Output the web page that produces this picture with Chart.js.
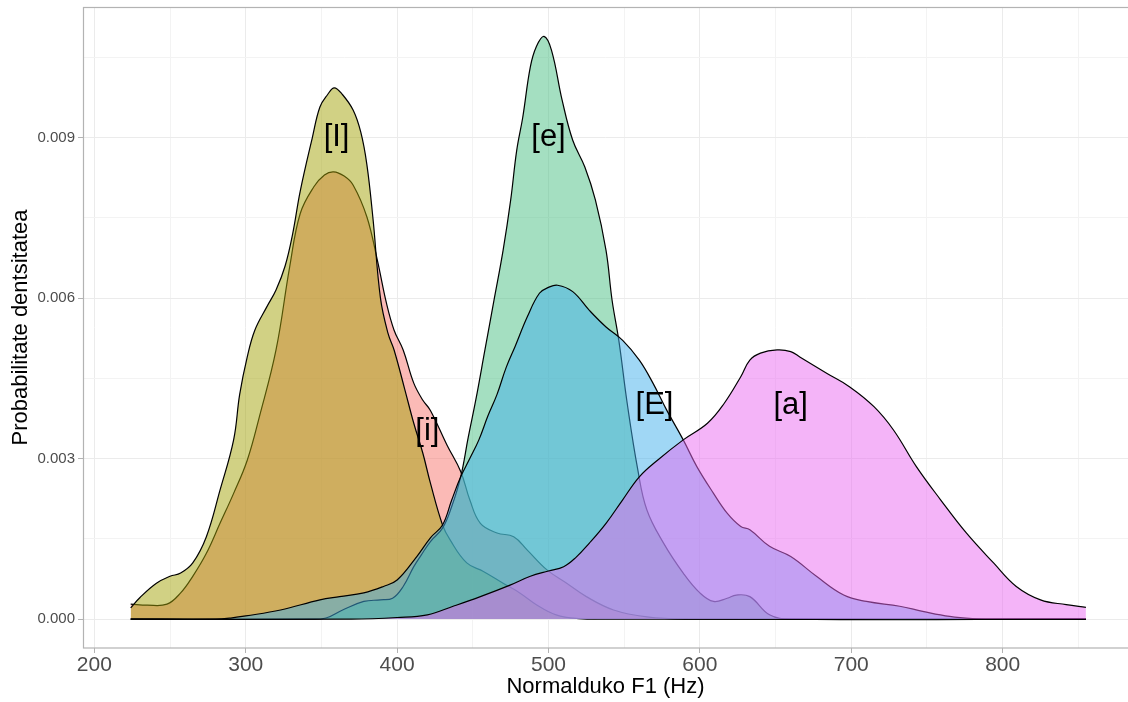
<!DOCTYPE html>
<html>
<head>
<meta charset="utf-8">
<script src="https://cdn.jsdelivr.net/npm/chart.js@4"></script>
<style>
  html, body { margin: 0; padding: 0; background: #fff; }
  #wrap { width: 1128px; height: 702px; }
</style>
</head>
<body>
<div id="wrap"><canvas id="chart" width="1128" height="702"></canvas></div>
<script>
// vowel groups, drawn in this order (later ones on top)
const vowels = ['[i]', '[I]', '[e]', '[E]', '[a]']
const fills = ['rgba(248,118,109,0.5)', 'rgba(163,163,10,0.5)', 'rgba(74,191,131,0.5)', 'rgba(65,175,235,0.5)', 'rgba(233,105,241,0.5)']

// density curves (Hz, density)
const iHz = [224, 235, 248, 257, 265, 274, 283, 292, 301, 309, 320, 329, 336, 345, 352, 358, 365, 371, 380, 387, 393, 398, 404, 411, 417, 422, 433, 442, 448, 455, 466, 477, 486, 499, 512, 525, 543, 565, 590, 855]
const iDens = [0.00028, 0.00026, 0.00028, 0.00049, 0.0008, 0.00123, 0.00179, 0.00235, 0.00297, 0.00378, 0.00503, 0.00658, 0.00758, 0.00808, 0.0083, 0.00836, 0.00828, 0.00811, 0.00752, 0.0067, 0.0059, 0.0054, 0.00503, 0.00441, 0.00409, 0.0039, 0.00325, 0.00276, 0.00223, 0.00179, 0.00161, 0.00154, 0.00129, 0.00092, 0.00067, 0.00042, 0.00017, 0.00004, 0, 0]

const IHz = [224, 230, 241, 250, 257, 265, 274, 283, 292, 296, 301, 306, 314, 320, 326, 331, 336, 344, 349, 354, 358.5, 364, 371, 376, 380, 384, 389, 394, 398, 405, 411, 417, 422, 430, 435, 446, 457, 470, 481, 492, 505, 520, 540, 855]
const IDens = [0.00021, 0.0004, 0.00067, 0.0008, 0.00086, 0.00105, 0.00154, 0.00241, 0.00335, 0.0042, 0.0049, 0.0054, 0.00584, 0.00615, 0.0066, 0.0072, 0.008, 0.009, 0.00957, 0.0098, 0.00993, 0.0098, 0.00951, 0.0091, 0.0085, 0.0075, 0.006, 0.00534, 0.00503, 0.0043, 0.00366, 0.0031, 0.00254, 0.00176, 0.00148, 0.00105, 0.00089, 0.00067, 0.00049, 0.00027, 0.00008, 0.00001, 0, 0]

const eHz = [224, 340, 353, 364, 378, 389, 397, 404, 411, 416, 422, 430, 436, 442, 447, 452, 458, 464, 470, 475, 479, 483, 488, 492, 497, 502, 509, 516, 524, 531, 538, 542, 546.5, 552, 559, 565, 576, 589, 600, 609, 618, 624, 633, 646, 660, 855]
const eDens = [0, 0, 0.00002, 0.00017, 0.00033, 0.00036, 0.00039, 0.00061, 0.00098, 0.0012, 0.00145, 0.0017, 0.0021, 0.00266, 0.0034, 0.0041, 0.00503, 0.00596, 0.00689, 0.00783, 0.00876, 0.00938, 0.01032, 0.0107, 0.01089, 0.01063, 0.0097, 0.00895, 0.00845, 0.00783, 0.00689, 0.00596, 0.0052, 0.00403, 0.00279, 0.00204, 0.00142, 0.00086, 0.00049, 0.00033, 0.00039, 0.00045, 0.00042, 0.00008, 0, 0]

const EHz = [224, 280, 290, 300, 323, 349, 362, 378, 391, 400, 413, 422, 430, 436, 442, 448, 454, 460, 466, 472, 478, 486, 494, 500, 506, 516, 527, 538, 549, 560, 569, 578, 589, 598, 609, 618, 627, 633, 646, 660, 677, 695, 710, 732, 748, 765, 780, 795, 855]
const EDens = [0, 0, 0.00002, 0.00006, 0.00017, 0.00036, 0.00042, 0.00049, 0.00061, 0.00073, 0.00117, 0.00152, 0.00176, 0.00222, 0.00266, 0.003, 0.00335, 0.0038, 0.0042, 0.0047, 0.0051, 0.00565, 0.00609, 0.0062, 0.00624, 0.00612, 0.00577, 0.00546, 0.00521, 0.00484, 0.00441, 0.00391, 0.00335, 0.00285, 0.00235, 0.00198, 0.00173, 0.00167, 0.00136, 0.00117, 0.0008, 0.00045, 0.00033, 0.00024, 0.00014, 0.00005, 0.00001, 0, 0]

const aHz = [224, 370, 400, 420, 437, 455, 475, 488, 500, 510, 518, 527, 538, 549, 560, 572, 589, 605, 616, 627, 633, 640, 651, 660, 666, 684, 699, 715, 728, 743, 759, 776, 794, 809, 825, 842, 855]
const aDens = [0, 0, 0.00003, 0.00008, 0.00024, 0.00042, 0.00064, 0.0008, 0.0009, 0.00098, 0.00115, 0.00142, 0.00179, 0.00223, 0.00266, 0.00297, 0.00335, 0.00366, 0.00403, 0.00453, 0.00484, 0.00497, 0.00503, 0.005, 0.0049, 0.00459, 0.00434, 0.00397, 0.00353, 0.00285, 0.00223, 0.00161, 0.00105, 0.00061, 0.00036, 0.00027, 0.00022]

const curves = [[iHz, iDens], [IHz, IDens], [eHz, eDens], [EHz, EDens], [aHz, aDens]]

// where the vowel names sit (Hz, density)
const labelHz = [420, 360, 500, 570, 660]
const labelDens = [0.0035, 0.009, 0.009, 0.004, 0.004]

// axis ticks: every other one is a minor grid line
const xTicks = [200, 250, 300, 350, 400, 450, 500, 550, 600, 650, 700, 750, 800, 850]
const yTicks = [0, 0.0015, 0.003, 0.0045, 0.006, 0.0075, 0.009, 0.0105]

const fontFamily = '"Liberation Sans", Arial, Helvetica, sans-serif'

const decorations = {
    id: 'decorations',
    afterDatasetsDraw(chart) {
        const {ctx, chartArea, scales} = chart
        ctx.save()
        ctx.fillStyle = '#000'
        ctx.font = '31px ' + fontFamily
        ctx.textAlign = 'center'
        ctx.textBaseline = 'middle'
        for (let k = 0; k < vowels.length; k++) {
            ctx.fillText(vowels[k], scales.x.getPixelForValue(labelHz[k]), scales.y.getPixelForValue(labelDens[k]))
        }
        // panel border (right side runs off the picture)
        ctx.strokeStyle = '#B3B3B3'
        ctx.lineWidth = 1.2
        ctx.strokeRect(chartArea.left + 0.5, chartArea.top + 0.5, chartArea.width + 20, chartArea.height - 0.5)
        ctx.restore()
    }
}

const datasets = curves.map((c, k) => ({
    label: vowels[k],
    data: c[0].map((hz, j) => ({x: hz, y: c[1][j]})),
    backgroundColor: fills[k],
    borderColor: '#000',
    borderWidth: 1.2,
    fill: 'origin',
    pointRadius: 0,
    tension: 0.4,
    order: vowels.length - 1 - k
}))

const ctx = document.getElementById('chart').getContext('2d')
new Chart(ctx, {
    type: 'line',
    data: {datasets: datasets},
    plugins: [decorations],
    options: {
        responsive: false,
        animation: false,
        devicePixelRatio: 1,
        layout: {padding: {top: 7, left: 0, right: 0, bottom: 0}},
        plugins: {legend: {display: false}, tooltip: {enabled: false}},
        scales: {
            x: {
                type: 'linear',
                min: 192.5,
                max: 882.8,
                afterBuildTicks: s => { s.ticks = xTicks.map(v => ({value: v})) },
                afterFit: s => { s.height = 54; s.paddingLeft = 0; s.paddingRight = 0 },
                grid: {
                    color: c => c.index % 2 ? '#F3F3F3' : '#EBEBEB',
                    tickColor: c => c.index % 2 ? 'rgba(0,0,0,0)' : '#B3B3B3',
                    tickLength: 5,
                    lineWidth: 1
                },
                border: {display: false},
                ticks: {
                    autoSkip: false,
                    maxRotation: 0,
                    padding: 0,
                    color: '#4D4D4D',
                    font: {family: fontFamily, size: 21},
                    callback: (v, i) => i % 2 ? '' : String(v)
                },
                title: {
                    display: true,
                    text: 'Normalduko F1 (Hz)',
                    color: '#000',
                    font: {family: fontFamily, size: 22},
                    padding: {top: 0, bottom: 2}
                }
            },
            y: {
                type: 'linear',
                min: -0.00054,
                max: 0.01144,
                afterBuildTicks: s => { s.ticks = yTicks.map(v => ({value: v})) },
                afterFit: s => { s.width = 83; s.paddingTop = 0; s.paddingBottom = 0 },
                grid: {
                    color: c => c.index % 2 ? '#F3F3F3' : '#EBEBEB',
                    tickColor: c => c.index % 2 ? 'rgba(0,0,0,0)' : '#B3B3B3',
                    tickLength: 5,
                    lineWidth: 1
                },
                border: {display: false},
                ticks: {
                    autoSkip: false,
                    padding: 3,
                    color: '#4D4D4D',
                    font: {family: fontFamily, size: 15},
                    callback: (v, i) => i % 2 ? '' : v.toFixed(3)
                },
                title: {
                    display: true,
                    text: 'Probabilitate dentsitatea',
                    color: '#000',
                    font: {family: fontFamily, size: 22},
                    padding: {top: 8, bottom: 0}
                }
            }
        }
    }
})
</script>
</body>
</html>
